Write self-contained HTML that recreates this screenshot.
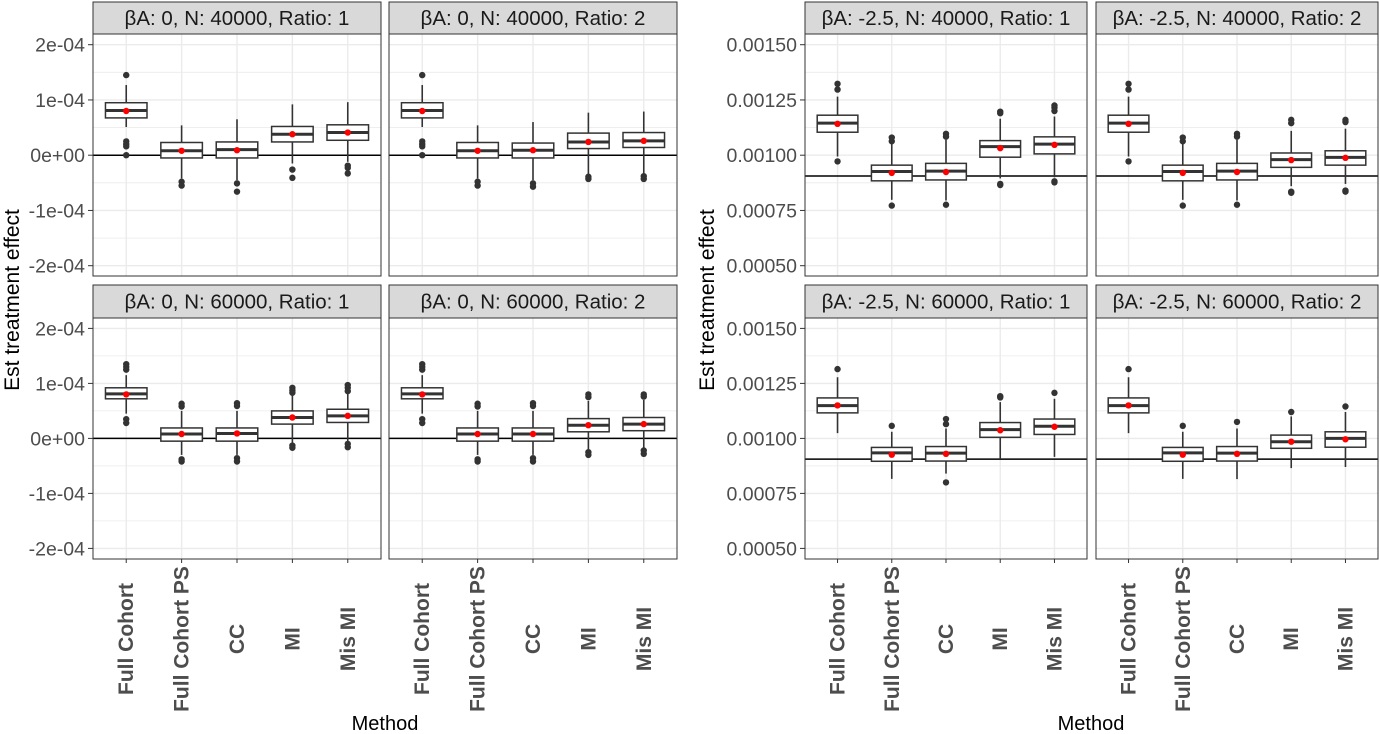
<!DOCTYPE html>
<html><head><meta charset="utf-8">
<style>
html,body{margin:0;padding:0;background:#fff;}
svg{display:block;font-family:"Liberation Sans",Arial,sans-serif;}
</style></head>
<body>
<svg id="chart" width="1380" height="734" viewBox="0 0 1380 734" xmlns="http://www.w3.org/2000/svg"></svg>
<script>
// ---- data (values in units of 1e-5) ----
const categories = ["Full Cohort","Full Cohort PS","CC","MI","Mis MI"];
const panelTitles = [
 "βA: 0, N: 40000, Ratio: 1","βA: 0, N: 40000, Ratio: 2",
 "βA: -2.5, N: 40000, Ratio: 1","βA: -2.5, N: 40000, Ratio: 2",
 "βA: 0, N: 60000, Ratio: 1","βA: 0, N: 60000, Ratio: 2",
 "βA: -2.5, N: 60000, Ratio: 1","βA: -2.5, N: 60000, Ratio: 2"];
const truthValues = [0,0,90.6,90.6,0,0,90.6,90.6];
const leftTicks = [20,10,0,-10,-20];
const leftTickLabels = ["2e-04","1e-04","0e+00","-1e-04","-2e-04"];
const rightTicks = [150,125,100,75,50];
const rightTickLabels = ["0.00150","0.00125","0.00100","0.00075","0.00050"];
const lowWhisker = [
 [5.1,-4.2,-4.5,-1.5,-1.2],[5.1,-4.2,-4.5,-3.5,-3.3],
 [99.4,79.8,79.5,89.5,90],[99.4,79.8,79.5,86,87],
 [4.5,-3,-3,-0.8,-0.5],[4.5,-3,-3,-2,-1.7],
 [102.4,81.6,84,90.6,91.6],[102.4,81.6,81.5,86.5,87]];
const q1 = [
 [6.75,-0.5,-0.5,2.4,2.7],[6.75,-0.5,-0.5,1.2,1.4],
 [110.4,88.4,88.8,99.1,100.6],[110.4,88.4,88.8,94.5,95.5],
 [7.2,-0.5,-0.5,2.6,2.9],[7.2,-0.5,-0.5,1.2,1.4],
 [111.6,89.6,89.7,100.5,101.8],[111.6,89.6,89.7,95.5,96]];
const medians = [
 [8.1,0.8,1.0,3.8,4.1],[8.1,0.8,0.9,2.4,2.6],
 [114.5,92.6,92.8,103.9,105],[114.5,92.6,92.8,98,99],
 [8.1,0.8,0.9,3.8,4.1],[8.1,0.8,0.8,2.4,2.6],
 [114.9,93.4,93.3,104,105.5],[114.9,93.4,93.3,98.5,100]];
const q3 = [
 [9.5,2.3,2.4,5.2,5.5],[9.5,2.3,2.2,4.0,4.1],
 [118.1,95.5,96.3,106.6,108.3],[118.1,95.5,96.3,101,102],
 [9.2,1.9,1.9,5.0,5.3],[9.2,1.9,1.9,3.6,3.8],
 [118.4,95.9,96.3,107.2,108.8],[118.4,95.9,96.3,101.5,103]];
const highWhisker = [
 [12.7,5.4,6.5,9.2,9.6],[12.7,5.4,6.0,7.7,7.9],
 [126.5,106,107,116.5,117.5],[126.5,106,107,111,112],
 [11.5,5,5,8,8.2],[11.5,5,5,6.8,7],
 [127.8,103,104.5,116.5,118],[127.8,103,104.5,110,112]];
const means = [
 [8.0,0.8,0.9,3.8,4.1],[8.0,0.8,0.9,2.4,2.6],
 [114.2,92,92.4,103.2,104.7],[114.2,92,92.4,97.8,98.8],
 [8.0,0.8,0.9,3.8,4.1],[8.0,0.8,0.8,2.4,2.6],
 [115,92.6,93,103.7,105.3],[115,92.6,93,98.5,99.6]];
const outliers = [
 [[14.5,2.5,2.0,1.6,0],[-4.8,-5.5],[-5.1,-6.6],[-2.6,-4.1],[-1.9,-2.3,-3.3]],
 [[14.5,2.5,2.0,1.6,0],[-4.8,-5.5],[-5.1,-5.7],[-3.9,-4.3],[-3.8,-4.3]],
 [[132.3,129.7,97.2],[108,106.3,77.2],[109.7,108.4,77.6],[119.7,119,87,86.5],[122.5,121.5,120,88.2,87.7]],
 [[132.3,129.7,97.2],[108,106.3,77.2],[109.7,108.4,77.6],[116,114.5,83.5,83],[116,115,84,83.5]],
 [[13.5,13,12.5,3.5,2.8],[6.3,5.8,-3.8,-4.2],[6.4,5.9,-3.6,-4.2],[9.2,8.7,8.3,-1.3,-1.7],[9.7,9.2,8.6,-1.0,-1.6]],
 [[13.5,13,12.5,3.5,2.8],[6.3,5.8,-3.8,-4.2],[6.4,5.9,-3.6,-4.2],[8,7.5,-2.5,-3],[8,7.6,-2.2,-2.8]],
 [[131.5],[105.7],[108.8,106.5,80],[119.2,118.6],[120.7]],
 [[131.5],[105.7],[107.5],[112],[114.5]]];

// ---- layout ----
const NS = "http://www.w3.org/2000/svg";
const svg = document.getElementById("chart");
function mk(tag, attrs, parent){
  const e = document.createElementNS(NS, tag);
  for (const k in attrs) e.setAttribute(k, attrs[k]);
  (parent||svg).appendChild(e);
  return e;
}
const colX = [[93,381],[389,677],[805,1087],[1096,1378]];
const rowY = [{s:2,t:34,b:276},{s:285,t:318,b:559}];
function yScale(isRight,row){
  const top = row===0 ? 44.7 : 328.4, bot = row===0 ? 265.7 : 548.4;
  const hi = isRight?150:20, lo = isRight?50:-20;
  return v => top + (hi - v)/(hi-lo)*(bot-top);
}
function xScale(c){
  const [x0,x1] = colX[c];
  const step = (x1-x0)/(categories.length-1+1.2);
  return i => x0 + step*(0.6+i);
}

for (let p=0;p<8;p++){
  const row = p<4?0:1, col = p%4, isRight = col>=2;
  const [x0,x1] = colX[col];
  const R = rowY[row];
  const y = yScale(isRight,row), x = xScale(col);
  const step = (x1-x0)/(categories.length-1+1.2);
  const g = mk("g",{});
  
  
  mk("rect",{x:x0,y:R.t,width:x1-x0,height:R.b-R.t,fill:"#fff"},g);
  const ticks = isRight?rightTicks:leftTicks;
  for (let i=0;i<ticks.length-1;i++){
    const v=(ticks[i]+ticks[i+1])/2;
    mk("line",{x1:x0,x2:x1,y1:y(v),y2:y(v),stroke:"#EBEBEB","stroke-width":0.8},g);
  }
  ticks.forEach(v=>mk("line",{x1:x0,x2:x1,y1:y(v),y2:y(v),stroke:"#EBEBEB","stroke-width":1.4},g));
  categories.forEach((c,i)=>mk("line",{x1:x(i),x2:x(i),y1:R.t,y2:R.b,stroke:"#EBEBEB","stroke-width":1.4},g));
  const tl = mk("line",{x1:x0,x2:x1,y1:y(truthValues[p]),y2:y(truthValues[p]),stroke:"#000","stroke-width":1.5},g);
  
  
  const bw = step*0.75;
  categories.forEach((c,i)=>{
    const bx = mk("g",{},g);
    
    
    const cx = x(i);
    mk("line",{x1:cx,x2:cx,y1:y(highWhisker[p][i]),y2:y(q3[p][i]),stroke:"#333","stroke-width":1.6},bx);
    mk("line",{x1:cx,x2:cx,y1:y(q1[p][i]),y2:y(lowWhisker[p][i]),stroke:"#333","stroke-width":1.6},bx);
    mk("rect",{x:cx-bw/2,y:y(q3[p][i]),width:bw,height:y(q1[p][i])-y(q3[p][i]),fill:"#fff",stroke:"#333","stroke-width":1.5},bx);
    mk("line",{x1:cx-bw/2,x2:cx+bw/2,y1:y(medians[p][i]),y2:y(medians[p][i]),stroke:"#333","stroke-width":3},bx);
    outliers[p][i].forEach(v=>mk("circle",{cx:cx,cy:y(v),r:3.2,fill:"#333"},bx));
    const m = mk("circle",{cx:cx,cy:y(means[p][i]),r:3.2,fill:"#FF0000"},bx);
    
    
  });
  mk("rect",{x:x0,y:R.t,width:x1-x0,height:R.b-R.t,fill:"none",stroke:"#333","stroke-width":1},g);
  const st = mk("rect",{x:x0,y:R.s,width:x1-x0,height:R.t-R.s,fill:"#D9D9D9",stroke:"#333","stroke-width":1},g);
  
  
  const stt = mk("text",{x:(x0+x1)/2,y:(R.s+R.t)/2+7,"text-anchor":"middle","font-size":20.5,fill:"#1A1A1A"},g);
  stt.textContent = panelTitles[p];
  
  
  if (col===0 || col===2){
    const tlab = isRight?rightTickLabels:leftTickLabels;
    ticks.forEach((v,i)=>{
      mk("line",{x1:x0-5,x2:x0,y1:y(v),y2:y(v),stroke:"#333","stroke-width":1},g);
      const t = mk("text",{x:x0-8,y:y(v)+7,"text-anchor":"end","font-size":19.5,fill:"#4D4D4D"},g);
      t.textContent = tlab[i];
      
      
    });
  }
  if (row===1){
    categories.forEach((c,i)=>{
      mk("line",{x1:x(i),x2:x(i),y1:R.b,y2:R.b+4,stroke:"#333","stroke-width":1},g);
      const t = mk("text",{x:0,y:0,"text-anchor":"middle","font-size":21,"font-weight":"bold",fill:"#4D4D4D",
        transform:`translate(${x(i)+7},639) rotate(-90)`},g);
      t.textContent = c;
      
      
    });
  }
}
[[12,300],[707,300]].forEach(([tx,ty])=>{
  const t = mk("text",{x:0,y:0,"text-anchor":"middle","font-size":21,fill:"#000",transform:`translate(${tx+7},${ty}) rotate(-90)`});
  t.textContent = "Est treatment effect";
  
  
});
[385,1091].forEach(tx=>{
  const t = mk("text",{x:tx,y:730,"text-anchor":"middle","font-size":20,fill:"#000"});
  t.textContent = "Method";
  
  
});
</script>
</body></html>
